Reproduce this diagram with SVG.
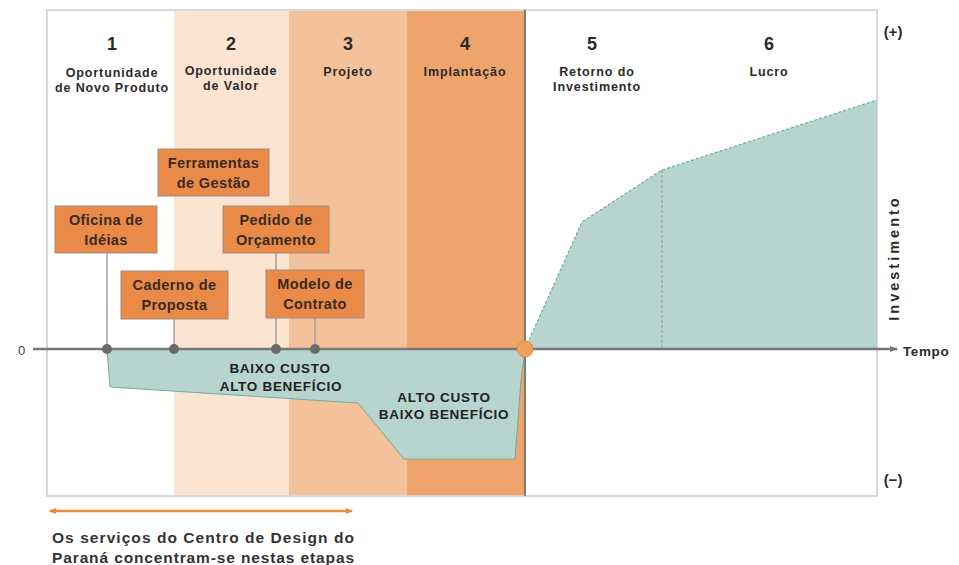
<svg xmlns="http://www.w3.org/2000/svg" width="959" height="565" viewBox="0 0 959 565">
<style>
text{font-family:"Liberation Sans",Arial,sans-serif;fill:#2a2a2a;font-weight:bold}
.num{font-size:18px;text-anchor:middle}
.lbl{font-size:12.5px;text-anchor:middle;letter-spacing:0.9px}
.box rect{fill:#ea8a48;stroke:#a08c80;stroke-width:1}
.box text{font-size:14.5px;text-anchor:middle;fill:#3a2a22;letter-spacing:0.4px}
.tl{font-size:13.5px;text-anchor:middle;fill:#222;letter-spacing:0.7px}
.stem{stroke:#a0a0a0;stroke-width:1.5}
.dot{fill:#6a6a6a}
</style>
<defs>
<marker id="ah" markerWidth="8" markerHeight="8" refX="7" refY="4" orient="auto" markerUnits="userSpaceOnUse"><path d="M0,1 L8,4 L0,7 z" fill="#777"/></marker>
<marker id="oa" markerWidth="8" markerHeight="8" refX="6" refY="4" orient="auto-start-reverse" markerUnits="userSpaceOnUse"><path d="M0,1 L7,4 L0,7 z" fill="#ec8a3e"/></marker>
</defs>

<!-- background columns -->
<rect x="47" y="10" width="830" height="486" fill="#fff" stroke="#d8d8d8" stroke-width="2"/>
<rect x="174" y="11" width="115" height="484" fill="#fce4d2"/>
<rect x="289" y="11" width="118" height="484" fill="#f4c29a"/>
<rect x="407" y="11" width="118" height="484" fill="#efa46c"/>

<!-- teal areas -->
<polygon points="107,349 110,387 358,403 404,459 515,459 521,380 525,349" fill="#b8d4cf" stroke="#6aaea2" stroke-width="1"/>
<polygon points="525,349 582,222 662,170 877,100 877,349" fill="#b8d4cf"/>
<polyline points="525,349 582,222 662,170 877,100" fill="none" stroke="#6aaea2" stroke-width="1.2" stroke-dasharray="3,2"/>
<line x1="662" y1="170" x2="662" y2="349" stroke="#8a9a98" stroke-width="1" stroke-dasharray="3,2"/>

<line x1="525" y1="10" x2="525" y2="496" stroke="#7a7a7a" stroke-width="2"/>

<!-- column headers -->
<g id="col1"><text class="num" x="112" y="50">1</text><text class="lbl" x="112" y="77">Oportunidade</text><text class="lbl" x="112" y="92">de Novo Produto</text></g>
<g id="col2"><text class="num" x="231" y="50">2</text><text class="lbl" x="231" y="75">Oportunidade</text><text class="lbl" x="231" y="90">de Valor</text></g>
<g id="col3"><text class="num" x="348" y="50">3</text><text class="lbl" x="348" y="76">Projeto</text></g>
<g id="col4"><text class="num" x="465" y="50">4</text><text class="lbl" x="465" y="76">Implantação</text></g>
<g id="col5"><text class="num" x="592" y="50">5</text><text class="lbl" x="597" y="76">Retorno do</text><text class="lbl" x="597" y="91">Investimento</text></g>
<g id="col6"><text class="num" x="769" y="50">6</text><text class="lbl" x="769" y="76">Lucro</text></g>

<!-- connectors -->
<g id="connectors">
<line x1="33" y1="349" x2="897" y2="349" stroke="#777" stroke-width="2.5" marker-end="url(#ah)"/>
<line class="stem" x1="107" y1="253" x2="107" y2="349"/>
<line class="stem" x1="174" y1="319" x2="174" y2="349"/>
<line class="stem" x1="276" y1="253" x2="276" y2="349"/>
<line class="stem" x1="315" y1="318" x2="315" y2="349"/>
<circle class="dot" cx="107" cy="349" r="5"/>
<circle class="dot" cx="174" cy="349" r="5"/>
<circle class="dot" cx="276" cy="349" r="5"/>
<circle class="dot" cx="315" cy="349" r="5"/>
<circle cx="525" cy="349" r="8" fill="#ef9f5e" stroke="#e8843c" stroke-width="1"/>
<line x1="50" y1="511" x2="352" y2="511" stroke="#ec8a3e" stroke-width="2.5" marker-start="url(#oa)" marker-end="url(#oa)"/>
</g>

<!-- boxes -->
<g id="ferramentas" class="box"><rect x="158" y="149" width="111" height="47"/><text x="213.5" y="168">Ferramentas</text><text x="213.5" y="188">de Gestão</text></g>
<g id="oficina" class="box"><rect x="55" y="206" width="102" height="47"/><text x="106" y="225">Oficina de</text><text x="106" y="245">Idéias</text></g>
<g id="pedido" class="box"><rect x="223" y="206" width="106" height="47"/><text x="276" y="225">Pedido de</text><text x="276" y="245">Orçamento</text></g>
<g id="caderno" class="box"><rect x="121" y="271" width="107" height="48"/><text x="174.5" y="290">Caderno de</text><text x="174.5" y="310">Proposta</text></g>
<g id="modelo" class="box"><rect x="266" y="270" width="98" height="48"/><text x="315" y="289">Modelo de</text><text x="315" y="309">Contrato</text></g>

<!-- teal labels -->
<text class="tl" x="280" y="373">BAIXO CUSTO</text>
<text class="tl" x="281" y="391">ALTO BENEFÍCIO</text>
<text class="tl" x="444" y="402">ALTO CUSTO</text>
<text class="tl" x="444" y="419">BAIXO BENEFÍCIO</text>

<!-- axis labels -->
<text x="18" y="355" style="font-size:13px;font-weight:normal;fill:#444">0</text>
<text x="903" y="356" style="font-size:13.5px;letter-spacing:0.6px">Tempo</text>
<text x="893" y="37" style="font-size:15px;text-anchor:middle">(+)</text>
<text x="893" y="485" style="font-size:15px;text-anchor:middle">(−)</text>
<text transform="translate(899,258) rotate(-90)" style="font-size:14.5px;text-anchor:middle;letter-spacing:3px">Investimento</text>

<text x="52" y="543" textLength="302" lengthAdjust="spacing" style="font-size:15.5px;fill:#333">Os serviços do Centro de Design do</text>
<text x="52" y="563" textLength="302" lengthAdjust="spacing" style="font-size:15.5px;fill:#333">Paraná concentram-se nestas etapas</text>
</svg>
